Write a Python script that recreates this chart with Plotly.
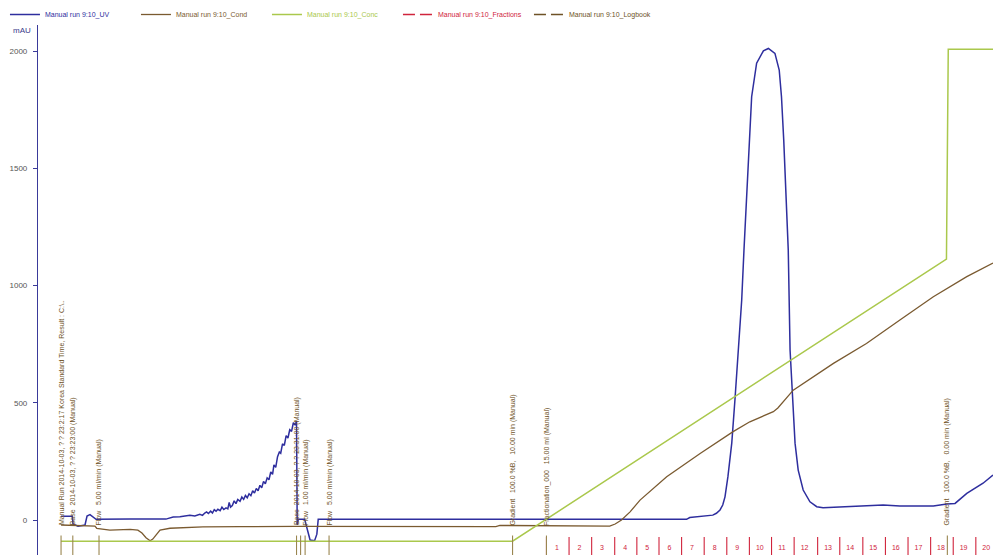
import plotly.graph_objects as go

# ---------------- data (volume in ml, signal in mAU) ----------------
uv_x = [5.1, 7.6, 7.75, 8.85, 10.4, 10.85, 11.5, 12.2, 12.85, 20.4, 28.3,
        29.9, 31.4, 33.6, 34.7, 35.8, 36.4, 36.9, 37.3, 37.7, 38.2, 38.6, 39.0, 39.4,
        39.8, 40.3, 40.7, 41.1, 41.6, 42.0, 42.3, 42.6, 43.0, 43.4, 43.8, 44.2, 44.7,
        45.1, 45.5, 45.9, 46.3, 46.7, 47.1, 47.5, 47.9, 48.3, 48.7, 49.1, 49.5, 49.9,
        50.3, 50.7, 51.1, 51.5, 51.9, 52.2, 52.6, 53.0, 53.4, 53.7, 54.1, 54.5, 54.9,
        55.3, 55.7, 56.1, 56.5, 56.9, 57.2,
        57.35, 57.6, 59.0, 59.6, 60.2, 61.2, 61.7,
        62.0, 100.0, 143.5, 144.2, 147.9, 149.3, 150.1, 150.9, 151.5, 152.0, 152.65,
        153.5, 154.2, 154.9, 155.7, 156.2, 157.3, 157.9, 159.0, 160.5, 161.6, 163.05,
        164.0, 164.5, 165.0, 166.0, 166.4, 167.0, 167.5, 168.2, 169.3, 170.8, 172.3,
        173.7, 179.6, 183.2, 187.0, 190.7, 198.1, 201.1, 202.9, 205.5, 209.1, 211.3]
uv_y = [16, 16, -17, -26, -21, 17, 23, 13, 3, 4, 4,
        13, 14, 20, 17, 25, 20, 30, 35, 28, 38, 30, 44, 38,
        46, 40, 55, 45, 52, 48, 75, 55, 62, 82, 70, 88, 80,
        98, 88, 105, 95, 112, 104, 125, 115, 135, 125, 148, 138, 165,
        155, 180, 172, 205, 195, 235, 225, 270, 290, 285, 325, 318, 360,
        350, 385, 378, 415, 405, 422,
        -20, 3, 3, -40, -85, -88, -60,
        3, 4, 3, 11, 17, 21, 29, 43, 64, 99, 185,
        328, 512, 725, 938, 1151, 1620, 1805, 1948, 2001, 2011, 1990,
        1919, 1805, 1620, 1151, 725, 512, 328, 213, 128, 78, 57,
        52, 57, 60, 64, 60, 60, 68, 71, 114, 157, 192]

cond_x = [5.1, 12.6, 13.0, 15.9, 20.4, 22.1, 23.0, 23.9, 24.8, 25.4, 26.1, 27.0,
          29.2, 36.5, 44.7, 57.2, 101.3, 102.2, 126.5, 127.7, 129.1, 131.0, 133.2,
          139.1, 146.5, 153.8, 157.5, 162.7, 163.7, 164.9, 167.1, 176.0, 183.3,
          190.7, 198.1, 205.5, 211.3]
cond_y = [-21, -26, -35, -43, -40, -43, -55, -75, -88, -81, -64, -43,
          -35, -29, -28, -27, -28, -23, -26, -17, 0, 35, 85,
          185, 284, 377, 419, 462, 478, 505, 554, 668, 753,
          853, 952, 1038, 1096]

conc_x = [5.1, 105.0, 201.0, 201.4, 211.3]
conc_y = [-90, -90, 1113, 2008, 2008]

frac_x = [112.5, 117.5, 122.5, 127.6, 132.5, 137.4, 142.4, 147.4, 152.4, 157.4,
          162.3, 167.3, 172.5, 177.4, 182.5, 187.5, 192.5, 197.5, 202.5, 207.5]
frac_labels = [str(i) for i in range(1, 21)]

log_x = [5.1, 7.7, 13.5, 57.2, 58.1, 59.1, 64.4, 105.0, 112.5, 201.2]
log_text = [
    "Manual Run 2014-10-03, ? ? 23:2:17 Korea Standard Time, Result : C:\\..",
    "Base  2014-10-03, ? ? 23:23:00 (Manual)",
    "Flow   5.00 ml/min (Manual)",
    "Base  2014-10-03, ? ? 23:31:00 (Manual)",
    "",
    "Flow   1.00 ml/min (Manual)",
    "Flow   5.00 ml/min (Manual)",
    "Gradient   100.0 %B,   10.00 min (Manual)",
    "Fractionation_000   15.00 ml (Manual)",
    "Gradient   100.0 %B,   0.00 min (Manual)",
]

y_ticks = [0, 500, 1000, 1500, 2000]

# ---------------- styling ----------------
C_UV = "#2e2e9e"
C_COND = "#7a5a30"
C_CONC = "#aac84c"
C_FRAC = "#d0243c"
C_LOG = "#6e5226"
FONT = "Liberation Sans, Arial, sans-serif"

def lab(txt, col):
    return f"<span style='color:{col}'>{txt}</span>"

fig = go.Figure()

fig.add_trace(go.Scatter(x=uv_x, y=uv_y, mode="lines", name=lab("Manual run 9:10_UV", C_UV),
                         line=dict(color=C_UV, width=1.5), hoverinfo="skip"))
fig.add_trace(go.Scatter(x=cond_x, y=cond_y, mode="lines", name=lab("Manual run 9:10_Cond", C_COND),
                         line=dict(color=C_COND, width=1.3), hoverinfo="skip"))
fig.add_trace(go.Scatter(x=conc_x, y=conc_y, mode="lines", name=lab("Manual run 9:10_Conc", C_CONC),
                         line=dict(color=C_CONC, width=1.5), hoverinfo="skip"))

# fractions: vertical ticks
fx, fy = [], []
for v in frac_x:
    fx += [v, v, None]
    fy += [-72, -152, None]
fig.add_trace(go.Scatter(x=fx, y=fy, mode="lines", showlegend=False, legendgroup="frac",
                         line=dict(color=C_FRAC, width=1.1), hoverinfo="skip"))
fig.add_trace(go.Scatter(x=[f + 2.3 for f in frac_x], y=[-119] * len(frac_x), mode="text",
                         text=frac_labels, textfont=dict(size=7, color=C_FRAC, family=FONT),
                         showlegend=False, hoverinfo="skip", cliponaxis=False))
fig.add_trace(go.Scatter(x=[None], y=[None], mode="lines", legendgroup="frac",
                         name=lab("Manual run 9:10_Fractions", C_FRAC),
                         line=dict(color=C_FRAC, width=1.3, dash="12px,5px")))

# logbook: vertical marks
lx, ly = [], []
for v in log_x:
    lx += [v, v, None]
    ly += [-66, -152, None]
fig.add_trace(go.Scatter(x=lx, y=ly, mode="lines", showlegend=False, legendgroup="log",
                         line=dict(color="#9a8650", width=1.1), hoverinfo="skip"))
fig.add_trace(go.Scatter(x=[None], y=[None], mode="lines", legendgroup="log",
                         name=lab("Manual run 9:10_Logbook", C_LOG),
                         line=dict(color=C_LOG, width=1.3, dash="12px,5px")))

for v, t in zip(log_x, log_text):
    if t:
        fig.add_annotation(x=v, y=-32, xref="x", yref="y", text=t, showarrow=False,
                           textangle=-90, xanchor="center", yanchor="bottom",
                           font=dict(size=7, color=C_LOG, family=FONT))

fig.add_annotation(x=-0.017, y=0.99, xref="paper", yref="paper", text="mAU", showarrow=False,
                   xanchor="center", yanchor="middle", font=dict(size=8, color="#3a3a8a", family=FONT))

fig.update_layout(
    width=993, height=555,
    margin=dict(l=38, r=0, t=25, b=0, autoexpand=False),
    paper_bgcolor="white", plot_bgcolor="white",
    showlegend=True,
    legend=dict(orientation="h", xref="container", yref="container",
                x=0.005, y=1.0, yanchor="top", xanchor="left",
                font=dict(size=7, family=FONT), entrywidth=86, entrywidthmode="pixels",
                bgcolor="rgba(0,0,0,0)", itemclick=False, itemdoubleclick=False,
                tracegroupgap=0),
    xaxis=dict(range=[0, 211.3], visible=False, showgrid=False, zeroline=False, automargin=False),
    yaxis=dict(range=[-149, 2111], tickvals=y_ticks, ticktext=[str(t) for t in y_ticks],
               showline=True, linecolor="#3a3a9a", linewidth=1.2, ticks="outside",
               ticklen=4, tickcolor="#3a3a9a", showgrid=False, zeroline=False, automargin=False,
               tickfont=dict(size=8, color="#555555", family=FONT), ticklabelstandoff=4),
)

fig.write_html("out.html", config={"displayModeBar": False},
               post_script="document.body.style.margin='0';document.body.style.overflow='hidden';")
